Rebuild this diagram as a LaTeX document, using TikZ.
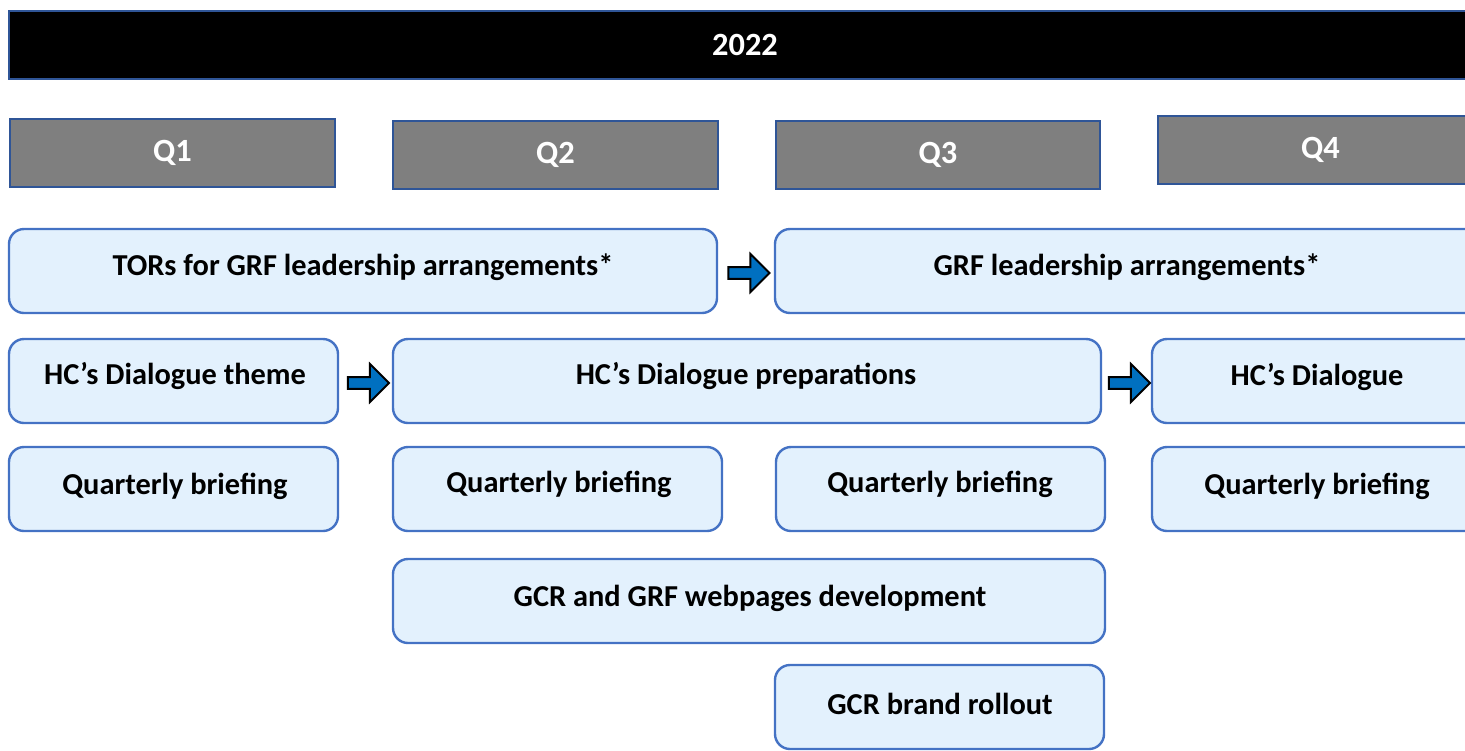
\documentclass[tikz,border=0pt]{standalone}
\usepackage{fontspec}
\setmainfont{Carlito}
\usetikzlibrary{fit,shapes.arrows,calc}
\definecolor{hdrline}{HTML}{2F5597}
\definecolor{qgray}{HTML}{7F7F7F}
\definecolor{boxfill}{HTML}{E3F1FD}
\definecolor{boxline}{HTML}{4472C4}
\definecolor{arrfill}{HTML}{0070C0}
\begin{document}
\begin{tikzpicture}[x=0.5pt,y=-0.5pt,
  hfont/.style={text=white,font=\bfseries\fontsize{16.2}{19}\selectfont},
  tfont/.style={text=black,font=\bfseries\fontsize{15.2}{18}\selectfont},
  hdr/.style={draw=hdrline,line width=1.1pt,fill=black,inner sep=0pt},
  qbox/.style={draw=hdrline,line width=1.1pt,fill=qgray,inner sep=0pt},
  task/.style={draw=boxline,line width=1.2pt,fill=boxfill,rounded corners=7.5pt,inner sep=0pt},
  flow/.style={single arrow,draw=black,line width=1pt,fill=arrfill,minimum height=20.5pt,single arrow head extend=4.5pt,minimum width=19pt,inner sep=1.5pt,anchor=center}
]
\useasboundingbox (0,0) rectangle (1465,750);
\clip (0,0) rectangle (1465,750);
\node[hdr,fit={(9,11)(1482,79)}] (year) {};
\node[hfont] (yeartxt) at (745,45) {2022};
\node[qbox,fit={(10,119)(335,187)}] (q1) {};
\node[hfont] at (q1.center) {Q1};
\node[qbox,fit={(393,121)(718,189)}] (q2) {};
\node[hfont] at (q2.center) {Q2};
\node[qbox,fit={(776,121)(1100,189)}] (q3) {};
\node[hfont] at (q3.center) {Q3};
\node[qbox,fit={(1158,116)(1483,184)}] (q4) {};
\node[hfont] at (q4.center) {Q4};

\node[task,fit={(9,229)(717,313)}] (tor) {};
\node[tfont] at (363,267) {TORs for GRF leadership arrangements*};
\node[task,fit={(775,229)(1480,313)}] (grf) {};
\node[tfont] at (1127,267) {GRF leadership arrangements*};

\node[task,fit={(9,339)(338,423)}] (theme) {};
\node[tfont] at (175,376) {HC’s Dialogue theme};
\node[task,fit={(393,339)(1101,423)}] (prep) {};
\node[tfont] at (746,376) {HC’s Dialogue preparations};
\node[task,fit={(1152,339)(1482,423)}] (dial) {};
\node[tfont] at (1317,377) {HC’s Dialogue};

\node[task,fit={(9,447)(338,531)}] (qb1) {};
\node[tfont] at (175,486) {Quarterly briefing};
\node[task,fit={(393,447)(722,531)}] (qb2) {};
\node[tfont] at (559,484) {Quarterly briefing};
\node[task,fit={(776,447)(1105,531)}] (qb3) {};
\node[tfont] at (940,484) {Quarterly briefing};
\node[task,fit={(1152,447)(1482,531)}] (qb4) {};
\node[tfont] at (1317,486) {Quarterly briefing};

\node[task,fit={(393,559)(1105,643)}] (web) {};
\node[tfont] at (750,598) {GCR and GRF webpages development};
\node[task,fit={(775,665)(1104,749)}] (brand) {};
\node[tfont] at (940,704) {GCR brand rollout};

\node[flow] (a1) at ($(tor.east)!0.5!(grf.west)+(0,2)$) {};
\node[flow] (a2) at ($(theme.east)!0.5!(prep.west)+(0,2)$) {};
\node[flow] (a3) at ($(prep.east)!0.5!(dial.west)+(0,2)$) {};
\end{tikzpicture}
\end{document}
